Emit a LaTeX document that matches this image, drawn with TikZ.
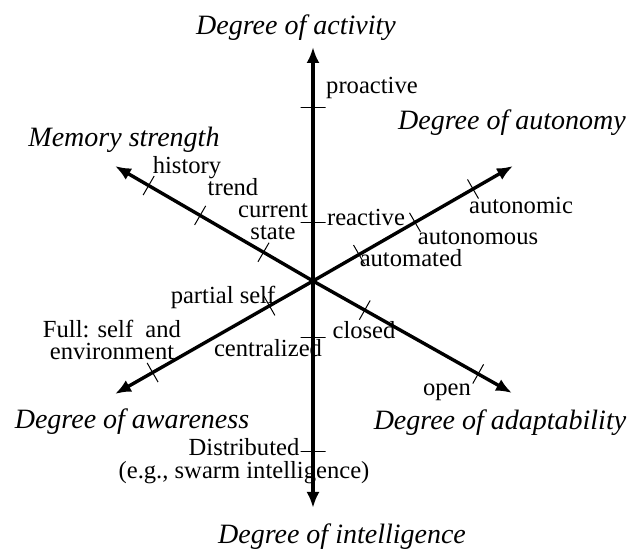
\documentclass[tikz,border=0pt]{standalone}
\usepackage{fontspec}
\setmainfont{Liberation Serif}
\usetikzlibrary{arrows.meta}
\tikzset{
  axis/.style={line width=1.7pt,-{Latex[length=8pt,width=6.5pt]}},
  axtick/.style={draw,line width=0.5pt,inner sep=0pt,outer sep=0pt,minimum width=0pt,minimum height=11pt,sloped},
  lbl/.style={font=\fontsize{12.3}{11.2}\selectfont,inner sep=0pt,align=center},
  ttl/.style={font=\fontsize{14}{16}\selectfont\itshape,inner sep=0pt}
}
\begin{document}
\begin{tikzpicture}[x=0.5pt,y=-0.5pt]
\useasboundingbox (0,0) rectangle (633,549);
% centre and arrow tips
\coordinate (o) at (313,281);
\coordinate (actTip) at (313,47);
\coordinate (intTip) at (313,508);
\coordinate (memTip) at (115,166);
\coordinate (autTip) at (513,166);
\coordinate (awaTip) at (115,394);
\coordinate (adaTip) at (512,393);

% axes with their ticks
\draw[axis] (o) -- (actTip) node[axtick,minimum height=12.5pt,pos=0.25]{} node[axtick,minimum height=12.5pt,pos=0.74]{};
\draw[axis] (o) -- (intTip) node[axtick,minimum height=12.5pt,pos=0.25]{} node[axtick,minimum height=12.5pt,pos=0.75]{};
\draw[axis] (o) -- (memTip) node[axtick,pos=0.25]{} node[axtick,pos=0.57]{} node[axtick,pos=0.83]{};
\draw[axis] (o) -- (autTip) node[axtick,pos=0.23]{} node[axtick,pos=0.51]{} node[axtick,pos=0.80]{};
\draw[axis] (o) -- (awaTip) node[axtick,pos=0.22]{} node[axtick,pos=0.81]{};
\draw[axis] (o) -- (adaTip) node[axtick,pos=0.26]{} node[axtick,pos=0.83]{};

% axis titles
\node[ttl] (actTitle) at (296,28) {Degree of activity};
\node[ttl] (autTitle) at (512,123) {Degree of autonomy};
\node[ttl] (memTitle) at (124,140) {Memory strength};
\node[ttl] (awaTitle) at (132,422) {Degree of awareness};
\node[ttl] (adaTitle) at (500,423) {Degree of adaptability};
\node[ttl] (intTitle) at (342,537) {Degree of intelligence};

% tick labels
\node[lbl] (proactive) at (372,88) {proactive};
\node[lbl] (reactive) at (366,217) {reactive};
\node[lbl] (history) at (187,168) {history};
\node[lbl] (trend) at (233,187) {trend};
\node[lbl] (current) at (273,222) {current\\state};
\node[lbl] (autonomic) at (521,205) {autonomic};
\node[lbl] (autonomous) at (478,238) {autonomous};
\node[lbl] (automated) at (411,258) {automated};
\node[lbl] (partial) at (223,297) {partial self};
\node[lbl] (full) at (112,340) {Full: self\ \ and\\environment};
\node[lbl] (centralized) at (268,348) {centralized};
\node[lbl] (closed) at (364,330) {closed};
\node[lbl] (open) at (447,392) {open};
\node[lbl] (distributed) at (244,461) {Distributed\\(e.g., swarm intelligence)};
\end{tikzpicture}
\end{document}
